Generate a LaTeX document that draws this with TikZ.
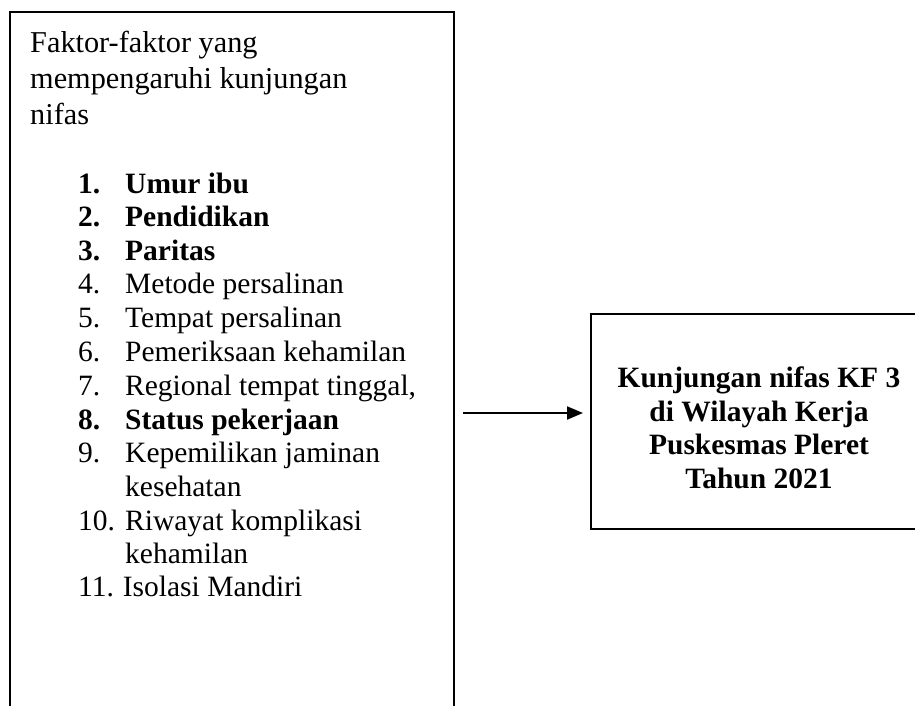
\documentclass[tikz,border=0pt]{standalone}
\usepackage{fontspec}
\setmainfont{Liberation Serif}
\usetikzlibrary{arrows.meta}
\begin{document}
\begin{tikzpicture}[x=1pt,y=-1pt,
  box/.style={draw=black,line width=1.7pt,rectangle,inner sep=0pt,anchor=north west},
  txt/.style={anchor=base west,inner sep=0pt,font=\fontsize{29.5}{34}\selectfont},
  ttl/.style={anchor=base west,inner sep=0pt,font=\fontsize{30.3}{35}\selectfont},
  btxt/.style={txt,font=\fontsize{29.5}{34}\selectfont\bfseries},
  ctr/.style={anchor=base,inner sep=0pt,font=\fontsize{29.5}{34}\selectfont\bfseries},
  arr/.style={-{Triangle[length=16pt,width=13pt]},line width=2pt}]
\clip (0,0) rectangle (915,705);
\fill[white] (0,0) rectangle (915,705);
% boxes
\node[box,minimum width=444pt,minimum height=760pt] (L) at (9,11) {};
\node[box,minimum width=360pt,minimum height=215pt] (R) at (590,313) {};
% title
\node[ttl] (t1) at (30,52) {Faktor-faktor yang};
\node[ttl] (t2) at (30,88) {mempengaruhi kunjungan};
\node[ttl] (t3) at (30,124) {nifas};
% list
\node[btxt] (n1) at (78,193) {1.};   \node[btxt] (i1) at (125,193) {Umur ibu};
\node[btxt] (n2) at (78,226.7) {2.}; \node[btxt] (i2) at (125,226.7) {Pendidikan};
\node[btxt] (n3) at (78,260) {3.};   \node[btxt] (i3) at (125,260) {Paritas};
\node[txt] (n4) at (78,293.5) {4.};  \node[txt] (i4) at (125,293.5) {Metode persalinan};
\node[txt] (n5) at (78,327.5) {5.};  \node[txt] (i5) at (125,327.5) {Tempat persalinan};
\node[txt] (n6) at (78,361) {6.};    \node[txt] (i6) at (125,361) {Pemeriksaan kehamilan};
\node[txt] (n7) at (78,395) {7.};    \node[txt] (i7) at (125,395) {Regional tempat tinggal,};
\node[btxt] (n8) at (78,429) {8.};   \node[btxt] (i8) at (125,429) {Status pekerjaan};
\node[txt] (n9) at (78,462.7) {9.};  \node[txt] (i9) at (125,462.7) {Kepemilikan jaminan};
\node[txt] (i9b) at (125,496) {kesehatan};
\node[txt] (n10) at (78,530) {10.};  \node[txt] (i10) at (125,530) {Riwayat komplikasi};
\node[txt] (i10b) at (125,563) {kehamilan};
\node[txt] (n11) at (78,596.7) {11.}; \node[txt] (i11) at (122.7,596.7) {Isolasi Mandiri};
% right text
\node[ctr] (r1) at (759,387.5) {Kunjungan nifas KF 3};
\node[ctr] (r2) at (759,421) {di Wilayah Kerja};
\node[ctr] (r3) at (759,454.5) {Puskesmas Pleret};
\node[ctr] (r4) at (759,488) {Tahun 2021};
% arrow
\coordinate (ay) at (0,413);
\draw[arr,shorten <=8pt,shorten >=7pt] (L.east |- ay) -- (R.west |- ay);
\end{tikzpicture}
\end{document}
